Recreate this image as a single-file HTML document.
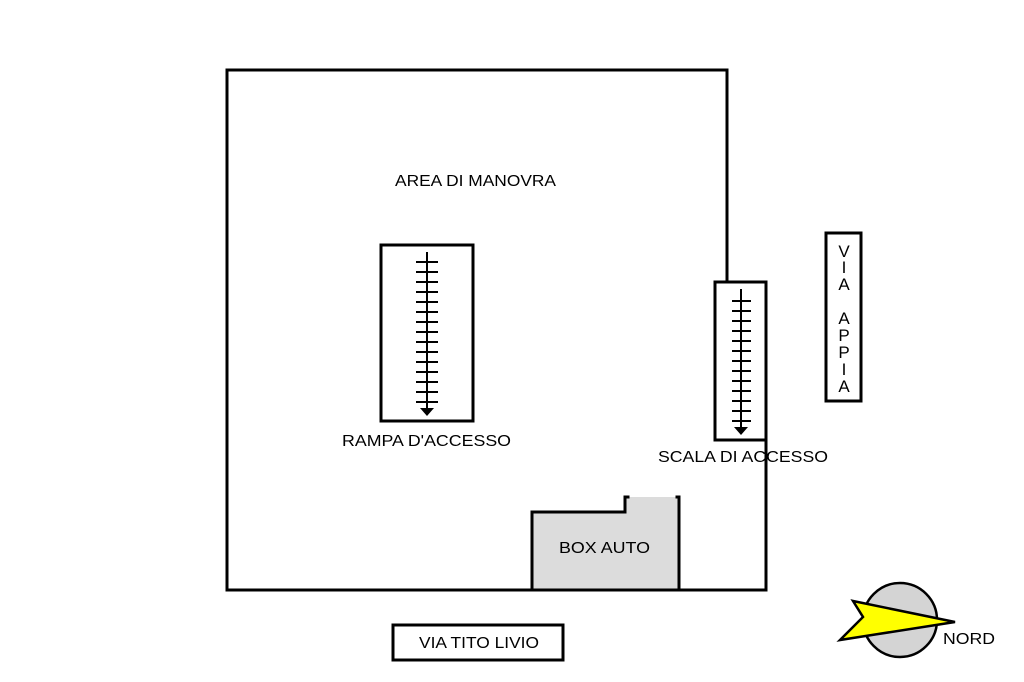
<!DOCTYPE html>
<html><head><meta charset="utf-8"><style>html,body{margin:0;padding:0;background:#fff;}svg{display:block}</style></head>
<body>
<svg width="1024" height="682" viewBox="0 0 1024 682" xmlns="http://www.w3.org/2000/svg" font-family="Liberation Sans, Arial, sans-serif" font-size="16" fill="#000">
<rect width="1024" height="682" fill="#fff"/>
<polygon points="532,590 532,512 625,512 625,497 679,497 679,590" fill="#dcdcdc"/>
<g stroke="#000" stroke-width="3" fill="none" stroke-linecap="square">
<polyline points="727,282 727,70 227,70 227,590 766,590 766,440"/>
<rect x="715" y="282" width="51" height="158"/>
<rect x="381" y="245" width="92" height="176"/>
<polyline points="532,590 532,512 625,512 625,497 628,497"/>
<polyline points="677,497 679,497 679,590"/>
<rect x="826" y="233" width="35" height="168"/>
<rect x="393" y="625" width="170" height="35"/>
</g>
<g stroke="#000" stroke-width="2">
<line x1="427" y1="252" x2="427" y2="410"/>
<line x1="416" y1="262" x2="438" y2="262"/><line x1="416" y1="272" x2="438" y2="272"/><line x1="416" y1="282" x2="438" y2="282"/><line x1="416" y1="292" x2="438" y2="292"/><line x1="416" y1="302" x2="438" y2="302"/><line x1="416" y1="312" x2="438" y2="312"/><line x1="416" y1="322" x2="438" y2="322"/><line x1="416" y1="332" x2="438" y2="332"/><line x1="416" y1="342" x2="438" y2="342"/><line x1="416" y1="352" x2="438" y2="352"/><line x1="416" y1="362" x2="438" y2="362"/><line x1="416" y1="372" x2="438" y2="372"/><line x1="416" y1="382" x2="438" y2="382"/><line x1="416" y1="392" x2="438" y2="392"/><line x1="416" y1="402" x2="438" y2="402"/>
<line x1="741" y1="289" x2="741" y2="430"/>
<line x1="732" y1="301" x2="751" y2="301"/><line x1="732" y1="311" x2="751" y2="311"/><line x1="732" y1="321" x2="751" y2="321"/><line x1="732" y1="331" x2="751" y2="331"/><line x1="732" y1="341" x2="751" y2="341"/><line x1="732" y1="351" x2="751" y2="351"/><line x1="732" y1="361" x2="751" y2="361"/><line x1="732" y1="371" x2="751" y2="371"/><line x1="732" y1="381" x2="751" y2="381"/><line x1="732" y1="391" x2="751" y2="391"/><line x1="732" y1="401" x2="751" y2="401"/><line x1="732" y1="411" x2="751" y2="411"/><line x1="732" y1="421" x2="751" y2="421"/>
</g>
<polygon points="420,408 434,408 427,416" fill="#000"/>
<polygon points="734,427 748,427 741,435" fill="#000"/>
<text x="395" y="186" textLength="161" lengthAdjust="spacingAndGlyphs">AREA DI MANOVRA</text>
<text x="342" y="446" textLength="169" lengthAdjust="spacingAndGlyphs">RAMPA D'ACCESSO</text>
<text x="658" y="462" textLength="170" lengthAdjust="spacingAndGlyphs">SCALA DI ACCESSO</text>
<text x="559" y="553" textLength="91" lengthAdjust="spacingAndGlyphs">BOX AUTO</text>
<text x="419" y="648" textLength="120" lengthAdjust="spacingAndGlyphs">VIA TITO LIVIO</text>
<g text-anchor="middle" font-size="17">
<text x="844" y="257">V</text><text x="844" y="273">I</text><text x="844" y="290">A</text>
<text x="844" y="324">A</text><text x="844" y="341">P</text><text x="844" y="358">P</text><text x="844" y="375">I</text><text x="844" y="392">A</text>
</g>
<circle cx="900" cy="620" r="37" fill="#d4d4d4" stroke="#000" stroke-width="2.5"/>
<polygon points="853,601 955,622 840,640 863,617" fill="#ffff00" stroke="#000" stroke-width="2.5"/>
<text x="943" y="644" textLength="52" lengthAdjust="spacingAndGlyphs">NORD</text>
</svg>
</body></html>
